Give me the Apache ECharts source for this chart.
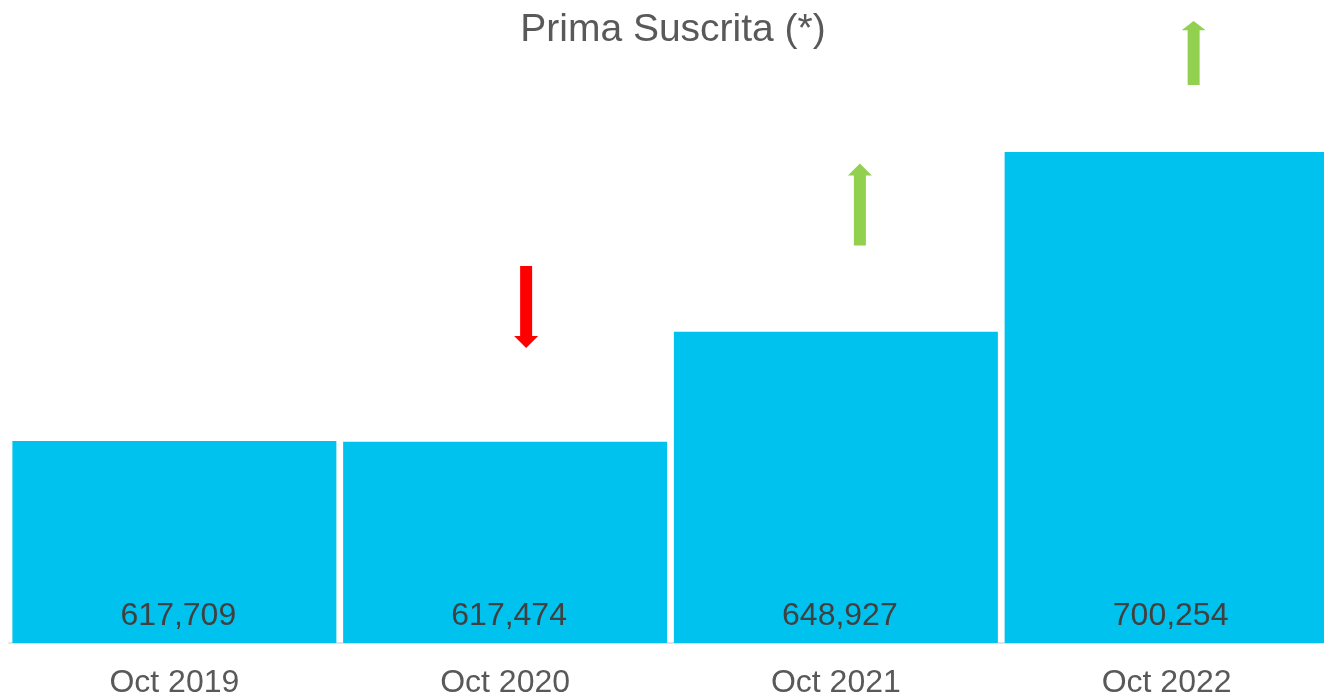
<!DOCTYPE html>
<html>
<head>
<meta charset="utf-8">
<script src="https://cdn.jsdelivr.net/npm/echarts@6/dist/echarts.min.js"></script>
<style>
  html, body { margin: 0; padding: 0; background: #fff; }
  #main { width: 1324px; height: 697px; }
</style>
</head>
<body>
<div id="main"></div>
<script>
// datos del gráfico
var categories = ['Oct 2019', 'Oct 2020', 'Oct 2021', 'Oct 2022'];
var primaValues = [617709, 617474, 648927, 700254];
// flechas de tendencia: posición (valor del eje) y dirección
var arrowValues = [null, 656000, 685300, 728600];
var arrowDirs = [null, 'down', 'up', 'up'];

var upPath = 'path://M12,0 L24,12 L18,12 L18,82 L6,82 L6,12 L0,12 Z';
var downPath = 'path://M6,0 L18,0 L18,70 L24,70 L12,82 L0,70 L6,70 Z';

var arrowData = arrowValues.map(function (v, i) {
    if (v === null) return null;
    var up = arrowDirs[i] === 'up';
    return {
        value: [categories[i], v],
        symbol: up ? upPath : downPath,
        symbolSize: i === 3 ? [24, 64] : [24, 82],
        symbolOffset: [[0, 21, 24, 27][i], 0],
        itemStyle: { color: up ? '#92D050' : '#FF0000', opacity: 1 }
    };
}).filter(function (d) { return d; });

var myChart = echarts.init(document.getElementById('main'));
myChart.setOption({
    animation: false,
    title: {
        text: 'Prima Suscrita (*)',
        left: 668,
        textAlign: 'center',
        top: 6,
        textStyle: {
            fontFamily: 'Liberation Sans, Arial, sans-serif',
            fontSize: 39,
            fontWeight: 'normal',
            color: '#595959'
        }
    },
    grid: {
        left: 9, width: 1323, top: 41, bottom: 54,
        containLabel: false,
        outerBoundsMode: 'none'
    },
    xAxis: {
        type: 'category',
        data: categories,
        axisLine: { lineStyle: { color: '#D9D9D9', width: 1.5 } },
        axisTick: { show: false },
        axisLabel: {
            margin: 24,
            fontFamily: 'Liberation Sans, Arial, sans-serif',
            fontSize: 32,
            color: '#595959'
        }
    },
    yAxis: {
        type: 'value',
        min: 560000,
        max: 732000,
        show: false,
        splitLine: { show: false }
    },
    series: [{
        name: 'Prima Suscrita',
        type: 'bar',
        data: primaValues,
        barWidth: 324,
        itemStyle: { color: '#00C2EE' },
        label: {
            show: true,
            position: 'insideBottom',
            distance: 11,
            offset: [4, 0],
            fontFamily: 'Liberation Sans, Arial, sans-serif',
            fontSize: 32,
            color: '#404040',
            formatter: function (p) { return p.value.toLocaleString('en-US'); }
        }
    }, {
        name: 'Tendencia',
        type: 'scatter',
        data: arrowData,
        z: 5
    }]
});
</script>
</body>
</html>
